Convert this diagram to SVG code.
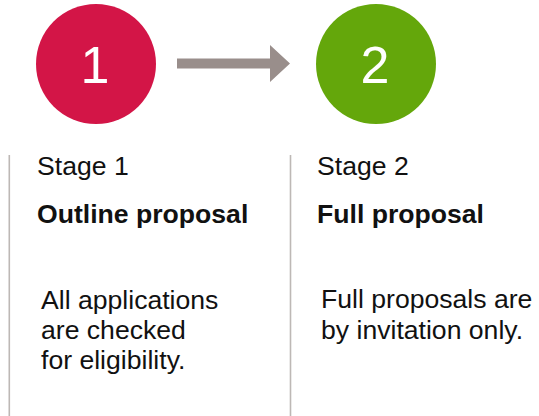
<svg xmlns="http://www.w3.org/2000/svg" width="539" height="416" viewBox="0 0 539 416">
<style>
.num{font-family:"Liberation Sans",Arial,sans-serif;font-size:52px;fill:#ffffff;text-anchor:middle}
.t{font-family:"Liberation Sans",Arial,sans-serif;font-size:26.6px;fill:#111111}
.b{font-weight:bold}
.div{stroke:#bdb8b5;stroke-width:1.6}
</style>
<rect width="539" height="416" fill="#ffffff"/>
<g id="stage1">
<circle cx="96" cy="64" r="60" fill="#d31547"/>
<text class="num" x="95" y="83">1</text>
<line class="div" x1="9.3" y1="155" x2="9.3" y2="416"/>
<text class="t" x="37" y="175">Stage 1</text>
<text class="t b" x="37" y="223">Outline proposal</text>
<text class="t" x="41" y="309">All applications</text>
<text class="t" x="41" y="339">are checked</text>
<text class="t" x="41" y="369">for eligibility.</text>
</g>
<g id="stage2">
<circle cx="376" cy="64" r="60" fill="#64a70b"/>
<text class="num" x="375" y="83">2</text>
<line class="div" x1="290.5" y1="155" x2="290.5" y2="416"/>
<text class="t" x="317" y="175">Stage 2</text>
<text class="t b" x="317" y="223">Full proposal</text>
<text class="t" x="321" y="308">Full proposals are</text>
<text class="t" x="321" y="339">by invitation only.</text>
</g>
<g id="connectors">
<polygon points="177,58.5 270,58.5 270,45 290,63.5 270,82 270,68.5 177,68.5" fill="#998e8b"/>
</g>
</svg>
